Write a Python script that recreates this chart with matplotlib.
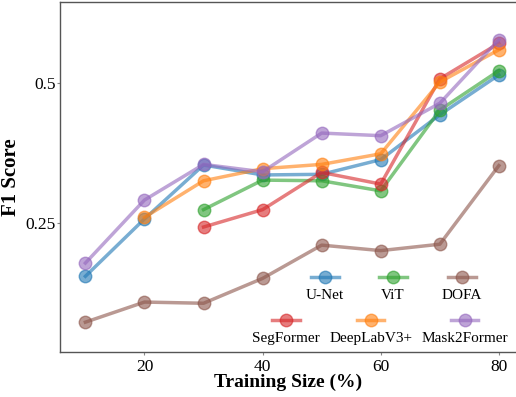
import numpy as np
import matplotlib
matplotlib.use("Agg")
import matplotlib.pyplot as plt
from matplotlib.ticker import FixedLocator, FixedFormatter, NullLocator
from matplotlib.offsetbox import VPacker

plt.rcParams['font.family'] = 'serif'
plt.rcParams['font.serif'] = ['Liberation Serif', 'DejaVu Serif']

# Data (F1 score vs training size)
sizes = [10, 20, 30, 40, 50, 60, 70, 80]
unet = [0.192, 0.255, 0.333, 0.317, 0.318, 0.342, 0.427, 0.520]
vit = [None, None, 0.267, 0.309, 0.308, 0.293, 0.437, 0.531]
dofa = [0.153, 0.169, 0.168, 0.190, 0.224, 0.218, 0.225, 0.332]
segformer = [None, None, 0.245, 0.267, 0.321, 0.303, 0.510, 0.608]
deeplab = [None, 0.257, 0.308, 0.327, 0.334, 0.352, 0.502, 0.589]
mask2former = [0.205, 0.280, 0.334, 0.322, 0.390, 0.385, 0.452, 0.619]

names = ['U-Net', 'ViT', 'DOFA', 'SegFormer', 'DeepLabV3+', 'Mask2Former']
series = [unet, vit, dofa, segformer, deeplab, mask2former]
colors = ['#1f77b4', '#2ca02c', '#8c564b', '#d62728', '#ff7f0e', '#9467bd']

fig = plt.figure(figsize=(5.16, 3.97), dpi=100)
ax = fig.add_axes([60 / 516, 45 / 397, 456 / 516, 350 / 397])

lines = []
for name, vals, c in zip(names, series, colors):
    xs = [s for s, v in zip(sizes, vals) if v is not None]
    ys = [v for v in vals if v is not None]
    ln, = ax.plot(xs, ys, '-o', color=c, lw=2.5, ms=9, alpha=0.6, label=name)
    lines.append(ln)

ax.set_yscale('log', base=2)
ax.set_ylim(0.132, 0.746)
ax.set_xlim(5.7, 82.9)
ax.yaxis.set_major_locator(FixedLocator([0.25, 0.5]))
ax.yaxis.set_major_formatter(FixedFormatter(['0.25', '0.5']))
ax.yaxis.set_minor_locator(NullLocator())
ax.set_xticks([20, 40, 60, 80])

for side in ['left', 'bottom', 'top']:
    ax.spines[side].set_color('#555555')
    ax.spines[side].set_linewidth(1.0)
ax.spines['right'].set_visible(False)
ax.tick_params(axis='both', length=2, width=0.8, color='#888888', labelsize=12.5, pad=3)
ax.tick_params(axis='y', pad=1)

ax.set_xlabel('Training Size (%)', fontsize=14, fontweight='bold', labelpad=-1)
ax.set_ylabel('F1 Score', fontsize=15, fontweight='bold', labelpad=3)


def stacked_legend(handles, labels, anchor, colsp):
    leg = ax.legend(handles, labels, ncol=3, frameon=False, fontsize=11,
                    handlelength=1.8, columnspacing=colsp, borderpad=0,
                    loc='center', bbox_to_anchor=anchor, bbox_transform=fig.transFigure)
    # put markers above the text
    for col in leg._legend_handle_box.get_children():
        new = []
        for item in col.get_children():
            h, t = item.get_children()
            new.append(VPacker(pad=0, sep=5, children=[h, t], align='center'))
        col._children = new
    return leg


leg1 = stacked_legend(lines[:3], names[:3], (394 / 516, 1 - 287 / 397), 2.3)
ax.add_artist(leg1)
leg2 = stacked_legend(lines[3:], names[3:], (380 / 516, 1 - 330 / 397), 0.6)

fig.savefig('out.png', dpi=100)
